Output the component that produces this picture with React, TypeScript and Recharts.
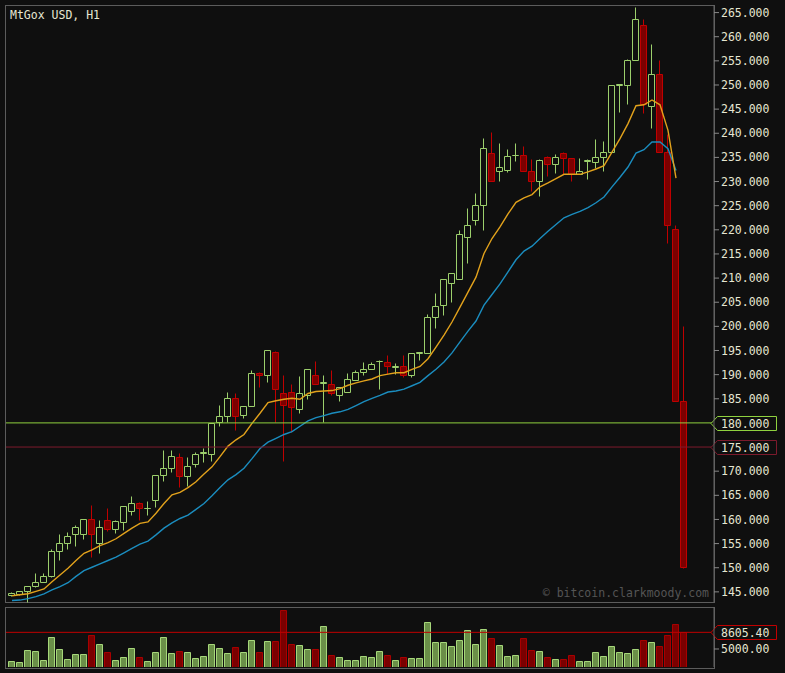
import { ComposedChart, BarChart, Bar, Line, XAxis, YAxis, ReferenceLine } from 'recharts';

// MtGox USD, H1 — one value per hourly candle
const opens = [
  144.3, 144.5, 145.1, 146.3, 147.0, 148.2, 153.5, 155.1, 156.9, 156.9,
  160.0, 155.1, 159.8, 158.1, 159.4, 161.7, 163.5, 162.3, 164.0, 169.2,
  170.6, 172.9, 168.9, 171.4, 173.7, 173.5, 180.1, 181.5, 185.1, 181.6,
  183.4, 190.4, 190.0, 194.6, 186.1, 186.5, 182.9, 185.8, 190.0, 188.2,
  188.0, 185.7, 186.5, 188.8, 190.6, 191.1, 192.8, 192.7, 191.6, 191.7,
  190.0, 194.5, 194.5, 202.0, 204.5, 209.0, 209.9, 218.6, 222.1, 225.2,
  236.0, 232.2, 232.4, 235.4, 235.5, 232.2, 230.2, 235.1, 233.7, 236.0,
  234.9, 231.6, 234.2, 234.1, 235.1, 236.2, 250.0, 250.0, 255.1, 262.4,
  245.7, 252.3, 236.2, 220.1, 184.6,
];
const highs = [
  144.9, 145.2, 146.3, 148.9, 148.9, 153.8, 156.9, 157.3, 158.8, 160.0,
  162.9, 159.9, 162.3, 159.9, 162.8, 164.9, 163.6, 163.8, 169.3, 174.4,
  174.4, 173.7, 173.0, 174.0, 174.7, 180.0, 183.8, 186.4, 186.1, 183.4,
  190.9, 190.5, 195.0, 194.8, 189.9, 188.0, 189.8, 191.1, 192.8, 189.9,
  190.9, 187.5, 190.4, 190.9, 192.7, 192.6, 193.0, 194.0, 192.4, 194.0,
  194.4, 194.7, 202.5, 207.0, 209.9, 211.1, 219.9, 224.6, 227.7, 239.1,
  240.2, 237.9, 236.7, 238.0, 237.4, 234.7, 234.7, 235.3, 235.8, 236.1,
  234.9, 234.9, 234.7, 238.9, 238.3, 250.0, 250.3, 255.3, 266.1, 263.7,
  258.5, 255.1, 239.9, 221.0, 200.1,
];
const lows = [
  144.2, 144.4, 143.0, 146.0, 147.0, 148.0, 151.5, 153.8, 154.6, 156.0,
  152.3, 153.1, 157.7, 157.1, 157.9, 161.0, 159.9, 161.0, 162.6, 168.0,
  169.9, 166.8, 167.0, 170.9, 172.0, 172.2, 179.4, 180.1, 178.5, 181.1,
  183.4, 187.5, 188.4, 180.1, 172.2, 178.2, 182.1, 185.0, 188.0, 180.1,
  185.7, 184.6, 186.5, 188.8, 190.0, 191.1, 187.1, 190.2, 190.2, 189.6,
  189.6, 193.0, 194.5, 199.7, 202.4, 205.1, 209.9, 213.1, 221.1, 220.0,
  230.1, 230.1, 232.0, 234.3, 232.2, 228.1, 227.1, 231.1, 231.8, 231.6,
  230.1, 231.6, 230.6, 232.9, 232.2, 236.2, 244.5, 246.1, 255.1, 244.2,
  241.1, 236.2, 217.2, 184.6, 150.0,
];
const closes = [
  144.85, 145.1, 146.3, 147.0, 148.2, 153.5, 155.1, 156.6, 158.5, 160.0,
  156.9, 158.4, 158.1, 159.7, 162.8, 163.5, 162.3, 162.4, 169.2, 170.6,
  173.1, 168.9, 171.1, 173.6, 173.9, 180.0, 181.5, 185.1, 181.5, 183.4,
  190.4, 190.0, 195.0, 187.1, 183.8, 183.3, 186.1, 191.1, 188.0, 188.4,
  186.1, 187.5, 189.0, 190.6, 191.1, 192.1, 192.9, 191.7, 191.8, 190.0,
  194.4, 194.6, 202.0, 204.3, 209.9, 211.1, 219.2, 221.1, 225.2, 237.0,
  230.1, 233.0, 235.3, 235.6, 232.2, 230.2, 234.5, 233.7, 235.1, 234.9,
  231.6, 232.2, 234.4, 235.1, 236.2, 250.0, 250.2, 255.1, 263.7, 246.1,
  252.3, 236.2, 221.1, 184.6, 150.1,
];
const volumes = [
  2330, 2120, 4710, 4500, 2550, 7520, 4930, 2760, 3850, 3850,
  7960, 6010, 4280, 2550, 3200, 5140, 3200, 2330, 4280, 7520,
  4060, 4500, 4280, 2980, 3410, 6010, 5140, 4060, 5360, 4280,
  6870, 4280, 6660, 6660, 13360, 6010, 5790, 4930, 4930, 9900,
  3630, 3200, 2550, 2550, 3410, 3200, 4500, 3630, 2550, 3200,
  2980, 2980, 10770, 6440, 6440, 5580, 6870, 9040, 6010, 9250,
  7310, 5790, 3410, 3630, 7310, 4710, 4500, 3200, 2760, 2760,
  3630, 2330, 2330, 4280, 3410, 5580, 4280, 4060, 4930, 6870,
  6440, 5580, 7960, 10340, 8605.4,
];
const maFast = [
  144.2, 144.4, 144.6, 145.1, 145.6, 147.1, 148.5, 149.9, 151.5, 153.0,
  153.7, 154.6, 155.2, 156.0, 157.1, 158.2, 159.2, 159.5, 161.3, 163.3,
  165.1, 165.6, 166.6, 167.8, 169.4, 170.9, 173.0, 175.2, 176.5, 177.6,
  179.9, 182.0, 184.2, 184.6, 184.9, 185.1, 184.9, 186.1, 186.5, 186.6,
  186.7, 187.1, 187.8, 188.3, 188.7, 189.1, 189.8, 190.1, 190.4, 190.4,
  191.1, 191.7, 193.3, 195.7, 198.2, 200.9, 204.0, 207.1, 210.2, 215.1,
  218.2, 220.6, 223.3, 225.7, 226.6, 227.3, 228.9, 229.7, 230.6, 231.5,
  231.5, 231.5, 232.0, 232.6, 233.3, 236.1, 238.9, 242.0, 245.7, 245.9,
  246.9, 245.9, 240.6, 230.7, null,
];
const maSlow = [
  143.2, 143.3, 143.6, 144.0, 144.6, 145.4, 146.1, 146.9, 148.2, 149.4,
  150.1, 150.8, 151.5, 152.2, 153.1, 154.0, 154.9, 155.5, 156.8, 158.2,
  159.3, 160.2, 160.9, 162.1, 163.3, 164.9, 166.6, 168.2, 169.3, 170.6,
  172.6, 174.7, 176.0, 176.8, 177.6, 178.2, 179.3, 180.4, 181.1, 181.5,
  182.0, 182.3, 182.8, 183.6, 184.4, 185.1, 185.7, 186.4, 186.6, 187.0,
  187.7, 188.4, 189.8, 191.1, 192.6, 194.5, 196.8, 199.0, 201.1, 204.4,
  206.6, 208.8, 211.3, 213.8, 215.6, 216.6, 218.2, 219.7, 221.1, 222.5,
  223.2, 223.8, 224.6, 225.6, 226.8, 228.9, 230.9, 233.0, 235.9, 236.6,
  238.2, 238.2, 236.8, 232.3, null,
];
const priceTicks = [
  145, 150, 155, 160, 165, 170, 175, 180, 185, 190, 195, 200, 205,
  210, 215, 220, 225, 230, 235, 240, 245, 250, 255, 260, 265,
];
const volumeTicks = [5000];
const levelHigh = 180;
const levelLow = 175;
const lastVolume = 8605.4;

const data = opens.map((open, i) => ({
  i,
  open,
  high: highs[i],
  low: lows[i],
  close: closes[i],
  range: [lows[i], highs[i]],
  volume: volumes[i],
  maFast: maFast[i],
  maSlow: maSlow[i],
  up: closes[i] >= open,
}));

const BG = '#0f0f0f';
const MONO = '"DejaVu Sans Mono", "Liberation Mono", monospace';
const TEXT = '#e6e6d2';
const UP = '#9ccf6c';
const DOWN_FILL = '#7c0000';
const DOWN_LINE = '#c00000';
const X_DOMAIN = [-0.75, 87.75];

function Candle(props: any) {
  const { x, y, width, height, payload } = props;
  if (x == null || payload == null) return null;
  const { open, high, low, close, up } = payload;
  const top = Math.min(y, y + height);
  const h = Math.abs(height);
  const ppu = h / (high - low);
  const py = (v: number) => top + (high - v) * ppu;
  const cx = Math.round(x + width / 2);
  const wx = cx - 0.5;
  const yHigh = Math.round(py(high)) + 0.5;
  const yLow = Math.round(py(low)) + 0.5;
  const bTop = Math.round(py(Math.max(open, close))) + 0.5;
  const bBot = Math.round(py(Math.min(open, close))) + 0.5;
  const body = `M${cx - 3.5},${bTop}H${cx + 2.5}V${bBot}H${cx - 3.5}Z`;
  if (up) {
    return (
      <g>
        <line x1={wx} x2={wx} y1={yHigh} y2={bTop} stroke={UP} />
        <line x1={wx} x2={wx} y1={bBot} y2={yLow} stroke={UP} />
        <path d={body} fill={BG} stroke={UP} />
      </g>
    );
  }
  return (
    <g>
      <line x1={wx} x2={wx} y1={yHigh} y2={yLow} stroke={DOWN_LINE} />
      <path d={body} fill={DOWN_FILL} stroke={DOWN_LINE} />
    </g>
  );
}

function VolumeBar(props: any) {
  const { x, y, width, height, payload } = props;
  if (x == null || payload == null) return null;
  const cx = Math.round(x + width / 2);
  const t = Math.round(y) + 0.5;
  const b = Math.round(y + height);
  const d = `M${cx - 3.5},${b}V${t}H${cx + 2.5}V${b}`;
  return payload.up ? (
    <path d={d} fill="#6a8f48" stroke="#a6d77a" />
  ) : (
    <path d={d} fill="#7a0000" stroke="#a80000" />
  );
}

function Tag(props: any) {
  const { viewBox, text, color } = props;
  if (!viewBox) return null;
  const y = Math.round(viewBox.y) + 0.5;
  const x0 = viewBox.x + viewBox.width;
  const d = `M${x0 - 3},${y}L${x0 + 3.5},${y - 7}H${x0 + 62.5}V${y + 7}H${x0 + 3.5}Z`;
  return (
    <g>
      <path d={d} fill={BG} stroke={color} />
      <text x={x0 + 7} y={y} dy="0.36em" fill={TEXT} fontFamily={MONO} fontSize={11.5}>
        {text}
      </text>
    </g>
  );
}

const tickStyle = { fill: TEXT, fontFamily: MONO, fontSize: 11.5 };
// the two level tags carry their own label, so the axis skips those values
const axisPriceTicks = priceTicks.filter((t) => t !== levelHigh && t !== levelLow);

export default function App() {
  return (
    <div
      style={{
        position: 'fixed',
        left: 0,
        top: 0,
        width: 785,
        height: 673,
        background: BG,
        overflow: 'hidden',
      }}
    >
      <div
        style={{
          position: 'absolute',
          left: 5,
          top: 5,
          width: 708,
          height: 596,
          border: '1px solid #5c5c5c',
        }}
      />
      <div
        style={{
          position: 'absolute',
          left: 5,
          top: 607,
          width: 708,
          height: 60,
          border: '1px solid #5c5c5c',
        }}
      />
      <div
        style={{
          position: 'absolute',
          left: 10,
          top: 8,
          color: TEXT,
          fontFamily: MONO,
          fontSize: 11.5,
        }}
      >
        MtGox USD, H1
      </div>
      <div
        style={{
          position: 'absolute',
          right: 785 - 709,
          top: 586,
          color: '#555',
          fontFamily: MONO,
          fontSize: 11.5,
        }}
      >
        © bitcoin.clarkmoody.com
      </div>

      <div style={{ position: 'absolute', left: 0, top: 0 }}>
        <ComposedChart width={785} height={607} data={data} margin={{ top: 5, right: 0, bottom: 5, left: 6 }}>
          <XAxis dataKey="i" type="number" domain={X_DOMAIN} hide />
          <YAxis
            orientation="right"
            width={71}
            domain={[142.9, 266.57]}
            ticks={axisPriceTicks}
            interval={0}
            tick={tickStyle}
            tickSize={5}
            tickLine={{ stroke: '#888' }}
            axisLine={{ stroke: '#666' }}
            tickFormatter={(v) => v.toFixed(3)}
          />
          <Bar dataKey="range" barSize={6} shape={<Candle />} isAnimationActive={false} />
          <Line
            dataKey="maSlow"
            stroke="#1b8dbf"
            strokeWidth={1.4}
            dot={false}
            activeDot={false}
            isAnimationActive={false}
          />
          <Line
            dataKey="maFast"
            stroke="#e2a21c"
            strokeWidth={1.4}
            dot={false}
            activeDot={false}
            isAnimationActive={false}
          />
          <ReferenceLine
            y={levelHigh}
            stroke="#8fd13f"
            label={<Tag text={levelHigh.toFixed(3)} color="#8fd13f" />}
          />
          <ReferenceLine
            y={levelLow}
            stroke="#7c1a2c"
            label={<Tag text={levelLow.toFixed(3)} color="#7c1a2c" />}
          />
        </ComposedChart>
      </div>

      <div style={{ position: 'absolute', left: 0, top: 602 }}>
        <BarChart width={785} height={71} data={data} margin={{ top: 5, right: 0, bottom: 6, left: 6 }}>
          <XAxis dataKey="i" type="number" domain={X_DOMAIN} hide />
          <YAxis
            orientation="right"
            width={71}
            domain={[1106, 14084]}
            ticks={volumeTicks}
            interval={0}
            tick={tickStyle}
            tickSize={5}
            tickLine={{ stroke: '#888' }}
            axisLine={{ stroke: '#666' }}
            tickFormatter={(v) => v.toFixed(2)}
          />
          <Bar dataKey="volume" barSize={6} shape={<VolumeBar />} isAnimationActive={false} />
          <ReferenceLine
            y={lastVolume}
            stroke="#c00000"
            label={<Tag text={lastVolume.toFixed(2)} color="#c00000" />}
          />
        </BarChart>
      </div>
    </div>
  );
}
